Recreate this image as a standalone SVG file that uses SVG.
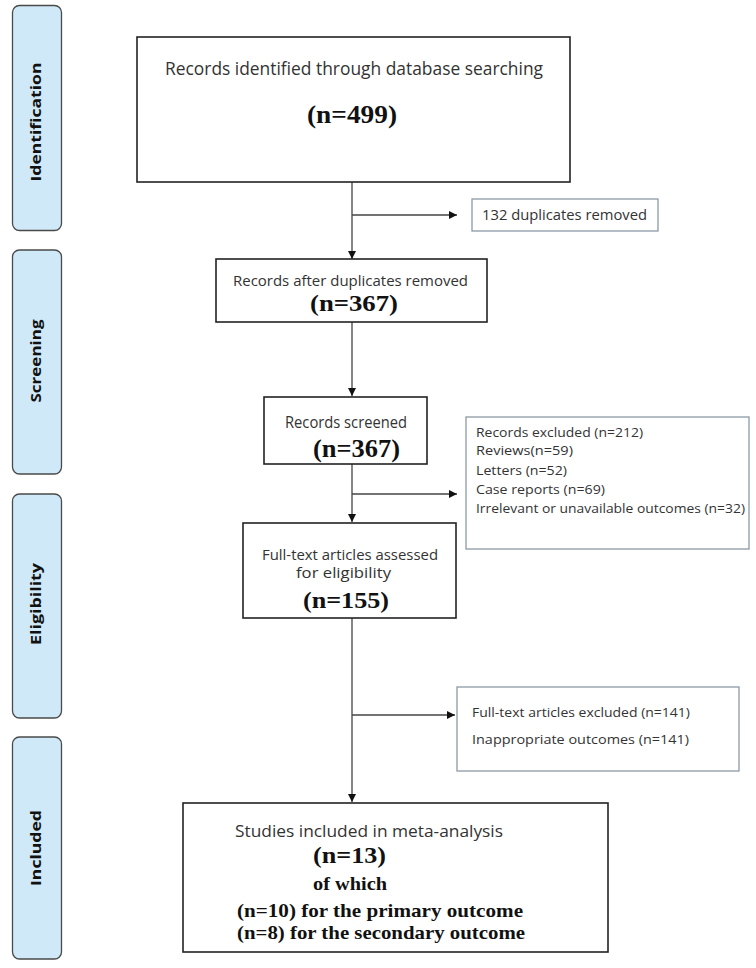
<svg xmlns="http://www.w3.org/2000/svg" width="756" height="968" viewBox="0 0 756 968">
<style>
.bar{fill:#cfe9f9;stroke:#4a4a4a;stroke-width:1.3}
.lbl{font-family:"Open Sans","Liberation Sans",sans-serif;font-weight:bold;font-size:15px;fill:#111;text-anchor:middle}
.box{fill:#fff;stroke:#222;stroke-width:1.6}
.xbox{fill:#fff;stroke:#8d99a6;stroke-width:1.3}
.t{font-family:"Open Sans","Liberation Sans",sans-serif;fill:#333}
.n{font-family:"Liberation Serif","Times New Roman",serif;font-weight:bold;fill:#111}
.c{stroke:#444;stroke-width:1.3;fill:none}
</style>
<defs>
<marker id="ah" viewBox="0 0 10 10" refX="10" refY="5" markerWidth="8" markerHeight="8" markerUnits="userSpaceOnUse" orient="auto">
<path d="M0,0 L10,5 L0,10 z" fill="#111"/>
</marker>
</defs>
<rect width="756" height="968" fill="#fff"/>

<g id="phase-identification">
<rect class="bar" x="12.5" y="5.5" width="49" height="225" rx="7"/>
<text class="lbl" transform="translate(41,122) rotate(-90)" textLength="119" lengthAdjust="spacingAndGlyphs">Identification</text>
</g>
<g id="phase-screening">
<rect class="bar" x="12.5" y="250" width="49" height="224" rx="7"/>
<text class="lbl" transform="translate(41,361) rotate(-90)" textLength="83" lengthAdjust="spacingAndGlyphs">Screening</text>
</g>
<g id="phase-eligibility">
<rect class="bar" x="12.5" y="494" width="49" height="224" rx="7"/>
<text class="lbl" transform="translate(41,604) rotate(-90)" textLength="82" lengthAdjust="spacingAndGlyphs">Eligibility</text>
</g>
<g id="phase-included">
<rect class="bar" x="12.5" y="737" width="49" height="222" rx="7"/>
<text class="lbl" transform="translate(41,848) rotate(-90)" textLength="76" lengthAdjust="spacingAndGlyphs">Included</text>
</g>

<g id="connectors">
<line class="c" x1="352" y1="182" x2="352" y2="259" marker-end="url(#ah)"/>
<line class="c" x1="352" y1="215" x2="457" y2="215" marker-end="url(#ah)"/>
<line class="c" x1="352" y1="322" x2="352" y2="396" marker-end="url(#ah)"/>
<line class="c" x1="352" y1="464" x2="352" y2="522" marker-end="url(#ah)"/>
<line class="c" x1="352" y1="494" x2="457" y2="494" marker-end="url(#ah)"/>
<line class="c" x1="352" y1="618" x2="352" y2="802" marker-end="url(#ah)"/>
<line class="c" x1="352" y1="715" x2="455" y2="715" marker-end="url(#ah)"/>
</g>

<g id="records-identified">
<rect class="box" x="137" y="37" width="433" height="145"/>
<text class="t" x="165" y="75" font-size="18" textLength="378" lengthAdjust="spacingAndGlyphs">Records identified through database searching</text>
<text class="n" x="307" y="123" font-size="25" textLength="90" lengthAdjust="spacingAndGlyphs">(n=499)</text>
</g>

<g id="duplicates-removed">
<rect class="xbox" x="472" y="199" width="186" height="32"/>
<text class="t" x="482" y="220" font-size="15" textLength="165" lengthAdjust="spacingAndGlyphs">132 duplicates removed</text>
</g>

<g id="records-after-duplicates">
<rect class="box" x="216" y="259" width="271" height="63"/>
<text class="t" x="233" y="286" font-size="14.5" textLength="235" lengthAdjust="spacingAndGlyphs">Records after duplicates removed</text>
<text class="n" x="310" y="311" font-size="23" textLength="88" lengthAdjust="spacingAndGlyphs">(n=367)</text>
</g>

<g id="records-screened">
<rect class="box" x="264" y="397" width="163" height="67"/>
<text class="t" x="285" y="428" font-size="15.5" textLength="122" lengthAdjust="spacingAndGlyphs">Records screened</text>
<text class="n" x="313" y="457" font-size="26" textLength="87" lengthAdjust="spacingAndGlyphs">(n=367)</text>
</g>

<g id="records-excluded">
<rect class="xbox" x="466" y="417" width="283" height="132"/>
<text class="t" x="476" y="437" font-size="13.5" textLength="167" lengthAdjust="spacingAndGlyphs">Records excluded (n=212)</text>
<text class="t" x="476" y="455" font-size="13.5" textLength="97" lengthAdjust="spacingAndGlyphs">Reviews(n=59)</text>
<text class="t" x="476" y="475" font-size="13.5" textLength="91" lengthAdjust="spacingAndGlyphs">Letters (n=52)</text>
<text class="t" x="476" y="494" font-size="13.5" textLength="129" lengthAdjust="spacingAndGlyphs">Case reports (n=69)</text>
<text class="t" x="476" y="513" font-size="13.5" textLength="269" lengthAdjust="spacingAndGlyphs">Irrelevant or unavailable outcomes (n=32)</text>
</g>

<g id="full-text-assessed">
<rect class="box" x="243" y="523" width="213" height="95"/>
<text class="t" x="262" y="560" font-size="14" textLength="176" lengthAdjust="spacingAndGlyphs">Full-text articles assessed</text>
<text class="t" x="296" y="578" font-size="14" textLength="95" lengthAdjust="spacingAndGlyphs">for eligibility</text>
<text class="n" x="303" y="608" font-size="24" textLength="86" lengthAdjust="spacingAndGlyphs">(n=155)</text>
</g>

<g id="full-text-excluded">
<rect class="xbox" x="457" y="687" width="282" height="84"/>
<text class="t" x="472" y="717" font-size="13.5" textLength="218" lengthAdjust="spacingAndGlyphs">Full-text articles excluded (n=141)</text>
<text class="t" x="472" y="744" font-size="13.5" textLength="217" lengthAdjust="spacingAndGlyphs">Inappropriate outcomes  (n=141)</text>
</g>

<g id="studies-included">
<rect class="box" x="183" y="803" width="425" height="149"/>
<text class="t" x="235" y="837" font-size="17" textLength="268" lengthAdjust="spacingAndGlyphs">Studies included in meta-analysis</text>
<text class="n" x="313" y="863" font-size="24" textLength="73" lengthAdjust="spacingAndGlyphs">(n=13)</text>
<text class="n" x="313" y="890" font-size="19" textLength="74" lengthAdjust="spacingAndGlyphs">of which</text>
<text class="n" x="237" y="917" font-size="19" textLength="286" lengthAdjust="spacingAndGlyphs">(n=10) for the primary outcome</text>
<text class="n" x="237" y="939" font-size="19" textLength="288" lengthAdjust="spacingAndGlyphs">(n=8) for the secondary outcome</text>
</g>
</svg>
